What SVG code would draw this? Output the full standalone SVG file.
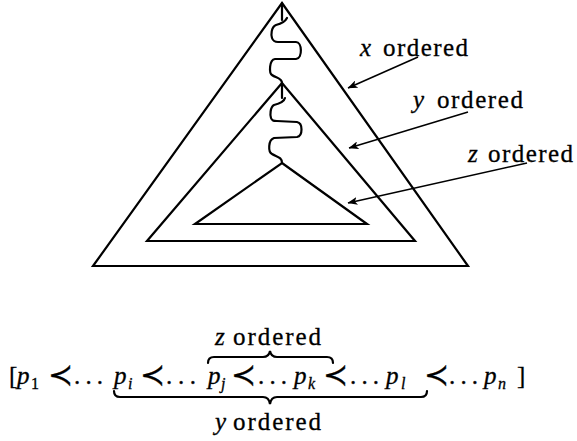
<svg xmlns="http://www.w3.org/2000/svg" width="577" height="441" viewBox="0 0 577 441">
<style>
.tri{fill:none;stroke:#000;stroke-width:2.2;stroke-linejoin:miter}
.wave{fill:none;stroke:#000;stroke-width:2.2;stroke-linecap:round}
.arr{fill:none;stroke:#000;stroke-width:1.6}
.brace{fill:none;stroke:#000;stroke-width:2.2;stroke-linecap:round}
</style>
<defs>
<marker id="ah" viewBox="0 0 10 8" refX="9.5" refY="4" markerWidth="10" markerHeight="8" markerUnits="userSpaceOnUse" orient="auto">
<path d="M0,0 L10,4 L0,8 L2.5,4 Z" fill="#000"/>
</marker>
</defs>
<rect width="577" height="441" fill="#fff"/>
<g id="outer-triangle"><path class="tri" d="M282,3 L468,266 L93,266 Z"/></g>
<g id="middle-triangle"><path class="tri" d="M282,83 L415,241 L147,241 Z"/></g>
<g id="inner-triangle"><path class="tri" d="M282,163 L367,224 L195,224 Z"/></g>
<g id="connectors">
<path class="wave" d="M282,3 L282,20 M287,18 C285,22 280,24 276,25 C271,27 271,35 272,38 C273,41 275,42 278,42 L296,42 C302,42 303,58 296,59 L275,59 C269,60 269,73 272,75 C276,78 282,78 282,83"/>
<path class="wave" d="M282,83 L282,98 M285,98 C284,102 278,104 274,105 C270,107 270,116 271,118 C272,121 274,121 277,121 L297,122 C303,123 303,136 297,137 L274,138 C268,140 268,152 272,154 C277,157 282,157 282,163"/>
<line class="arr" x1="418" y1="57" x2="348" y2="88" marker-end="url(#ah)"/>
<line class="arr" x1="468" y1="112" x2="349" y2="148" marker-end="url(#ah)"/>
<line class="arr" x1="527" y1="163" x2="348" y2="203" marker-end="url(#ah)"/>
<path class="brace" d="M208,363 Q208,357 214,357 L263,357 Q269,357 270,351 Q271,357 277,357 L327,357 Q333,357 333,363"/>
<path class="brace" d="M114,391 Q114,397 120,397 L263,397 Q269,397 270,404 Q271,397 277,397 L421,397 Q427,397 427,391"/>
</g>
<g font-family="Liberation Serif" font-size="25" fill="#000" stroke="#000" stroke-width="0.3">
<g id="label-x"><text x="360" y="56"><tspan font-style="italic">x</tspan><tspan x="383" textLength="85" lengthAdjust="spacing">ordered</tspan></text></g>
<g id="label-y"><text x="413" y="108"><tspan font-style="italic">y</tspan><tspan x="437" textLength="86" lengthAdjust="spacing">ordered</tspan></text></g>
<g id="label-z"><text x="468" y="162"><tspan font-style="italic">z</tspan><tspan x="488" textLength="85" lengthAdjust="spacing">ordered</tspan></text></g>
<g id="label-z-brace"><text x="215" y="345"><tspan font-style="italic">z</tspan><tspan x="233" textLength="88" lengthAdjust="spacing">ordered</tspan></text></g>
<g id="label-y-brace"><text x="215" y="430"><tspan font-style="italic">y</tspan><tspan x="233" textLength="88" lengthAdjust="spacing">ordered</tspan></text></g>
<g id="sequence">
<text x="9" y="384">[</text>
<text x="17" y="384" font-style="italic">p</text><text x="31" y="389" font-size="16">1</text>
<text x="60" y="385" text-anchor="middle" font-family="DejaVu Serif" font-size="30">≺</text>
<text x="74" y="384" textLength="29" lengthAdjust="spacing">...</text>
<text x="114" y="384" font-style="italic">p</text><text x="128" y="389" font-size="16" font-style="italic">i</text>
<text x="152" y="385" text-anchor="middle" font-family="DejaVu Serif" font-size="30">≺</text>
<text x="166" y="384" textLength="30" lengthAdjust="spacing">...</text>
<text x="208" y="384" font-style="italic">p</text><text x="221" y="389" font-size="16" font-style="italic">j</text>
<text x="243" y="385" text-anchor="middle" font-family="DejaVu Serif" font-size="30">≺</text>
<text x="258" y="384" textLength="29" lengthAdjust="spacing">...</text>
<text x="294" y="384" font-style="italic">p</text><text x="308" y="389" font-size="16" font-style="italic">k</text>
<text x="335" y="385" text-anchor="middle" font-family="DejaVu Serif" font-size="30">≺</text>
<text x="350" y="384" textLength="29" lengthAdjust="spacing">...</text>
<text x="386" y="384" font-style="italic">p</text><text x="401" y="389" font-size="16" font-style="italic">l</text>
<text x="436" y="385" text-anchor="middle" font-family="DejaVu Serif" font-size="30">≺</text>
<text x="449" y="384" textLength="29" lengthAdjust="spacing">...</text>
<text x="484" y="384" font-style="italic">p</text><text x="498" y="389" font-size="16" font-style="italic">n</text>
<text x="517" y="384">]</text>
</g>
</g>
</svg>
